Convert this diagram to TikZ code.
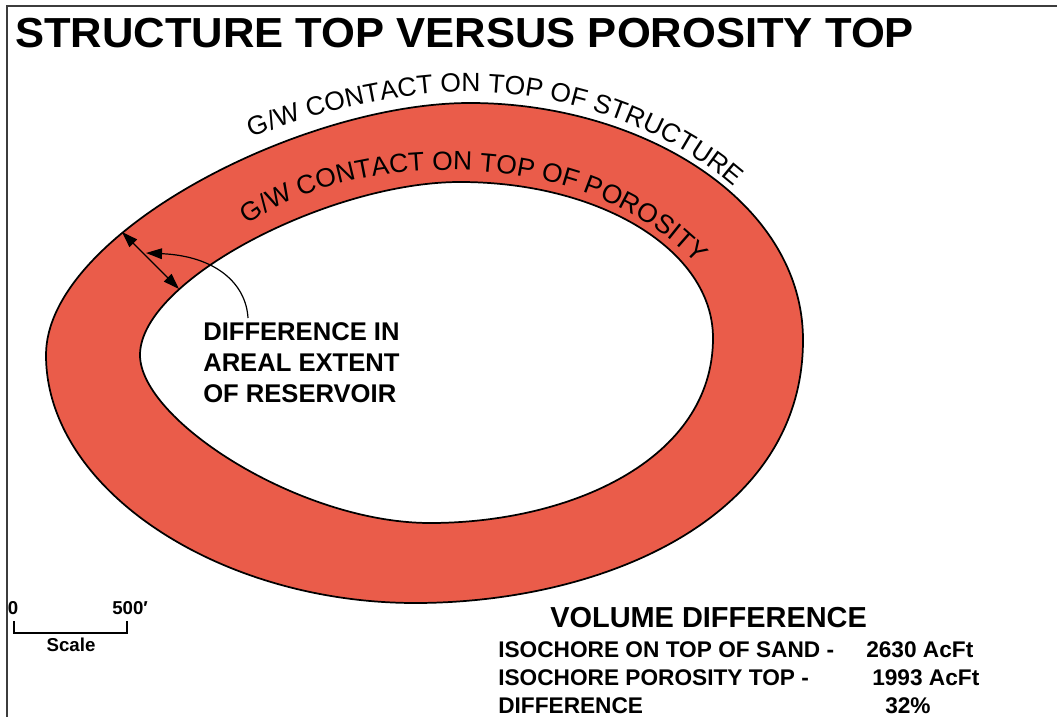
\documentclass[tikz,border=0pt]{standalone}
\usepackage{fontspec}
\usepackage{graphicx}
\setmainfont{Liberation Sans}
\usetikzlibrary{arrows.meta,decorations.text}
\definecolor{bandred}{RGB}{234,92,74}
\definecolor{framegray}{RGB}{60,60,60}
\newcommand\gwfont{\fontsize{19.8}{22}\selectfont}

\begin{document}
\begin{tikzpicture}[x=0.75pt,y=-0.75pt,
  contour/.style={draw=black,line width=1.3pt},
  lbl/.style={inner sep=0pt,align=left,font=\bfseries\fontsize{19.2}{23.25}\selectfont},
  voltxt/.style={anchor=base west,inner sep=0pt,font=\bfseries\fontsize{17}{20}\selectfont},
  scaletxt/.style={inner sep=0pt,font=\bfseries\fontsize{14}{16}\selectfont},
  dimarrow/.style={line width=0.9pt,{Triangle[length=12pt,width=8pt]}-{Triangle[length=12pt,width=8pt]}},
  leader/.style={line width=0.9pt,-{Triangle[length=12pt,width=8pt]}},
]
\useasboundingbox (0,0) rectangle (1057,717);
\fill[white] (0,0) rectangle (1057,717);
\draw[framegray,line width=1.3pt] (7,717) -- (7,6) -- (1057,6);

% title
\node[anchor=base west,inner sep=0pt,font=\bfseries\fontsize{31.5}{36}\selectfont] (title) at (15,48)
  {\scalebox{1.037}[1]{STRUCTURE TOP VERSUS POROSITY TOP}};

% structure-top closure (outer) and porosity-top closure (inner)
\draw[contour,fill=bandred] (46,355)
  .. controls (46,235) and (300,103) .. (470,103)
  .. controls (640,103) and (803,200) .. (803,340)
  .. controls (803,520) and (600,603) .. (415,603)
  .. controls (220,603) and (46,490) .. cycle;
\draw[contour,fill=white] (140,355)
  .. controls (140,280) and (330,182) .. (460,182)
  .. controls (600,182) and (713,250) .. (713,338)
  .. controls (713,460) and (570,523) .. (430,523)
  .. controls (300,523) and (140,420) .. cycle;

% curved contact labels
\coordinate (sta) at (252,138);
\coordinate (stm) at (480,92);
\coordinate (stb) at (745,197);
\coordinate (poa) at (248,225);
\coordinate (pob) at (708,278);
\path[decorate,decoration={text along path,text align=left,
  text={|\gwfont|G/W CONTACT ON TOP OF STRUCTURE}}]
  (sta) .. controls (330,105) and (420,90) .. (stm)
        .. controls (580,95) and (680,135) .. (stb);
\path[decorate,decoration={text along path,text align=left,
  text={|\gwfont|G/W CONTACT ON TOP OF POROSITY}}]
  (poa) .. controls (350,148) and (600,140) .. (pob);

% areal difference callout
\coordinate (structpt) at (122,232);
\coordinate (poropt) at (179,289);
\draw[dimarrow] (structpt) -- (poropt);
\node[lbl,anchor=north west] (areal) at (203,322) {DIFFERENCE IN\\AREAL EXTENT\\OF RESERVOIR};
\coordinate (leadstart) at (248,318);
\coordinate (leadend) at (146,253);
\draw[leader] (leadstart) .. controls (246,283) and (215,256) .. (leadend);

% scale bar
\node[scaletxt,anchor=base] (szero) at (13,614) {0};
\node[scaletxt,anchor=base west] (sfive) at (112,614) {500′};
\draw[line width=1.2pt] (14,621) -- (14,633) -- (127,633) -- (127,621);
\node[scaletxt,anchor=base] (scalelbl) at (71,651) {Scale};

% volume summary
\node[anchor=base west,inner sep=0pt,font=\bfseries\fontsize{21.7}{24}\selectfont] (voltitle) at (550,627) {VOLUME DIFFERENCE};
\node[voltxt] (rowa) at (498,657) {ISOCHORE ON TOP OF SAND -};
\node[voltxt] (vala) at (866,657) {2630 AcFt};
\node[voltxt] (rowb) at (498,685) {ISOCHORE POROSITY TOP -};
\node[voltxt] (valb) at (872,685) {1993 AcFt};
\node[voltxt] (rowc) at (498,713) {DIFFERENCE};
\node[voltxt] (valc) at (885,713) {32\%};
\end{tikzpicture}
\end{document}
